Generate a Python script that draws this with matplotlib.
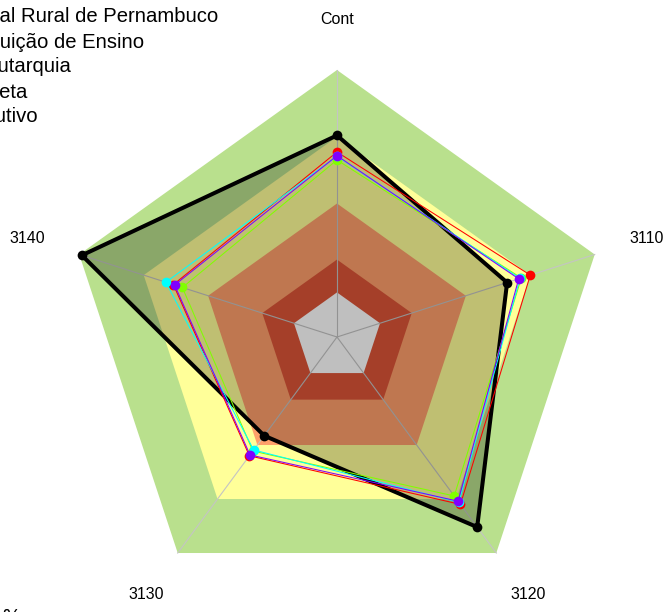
import matplotlib.pyplot as plt
import numpy as np

plt.rcParams['font.family'] = ['Liberation Sans', 'DejaVu Sans']

# dados do radar
categorias = ["Cont", "3110", "3120", "3130", "3140"]
nomes = [
    "Universidade Federal Rural de Pernambuco",
    "Instituição de Ensino",
    "Autarquia",
    "Administração Direta",
    "Poder Executivo",
]
ufrpe = [0.755, 0.66, 0.88, 0.457, 0.99]
inst_ensino = [0.693, 0.75, 0.775, 0.55, 0.635]
autarquia = [0.663, 0.715, 0.736, 0.528, 0.60]
adm_direta = [0.677, 0.71, 0.765, 0.523, 0.664]
poder_exec = [0.679, 0.705, 0.76, 0.546, 0.63]
series = [ufrpe, inst_ensino, autarquia, adm_direta, poder_exec]
cores = ["black", "#FF0000", "#80FF00", "#00FFFF", "#8000FF"]

# faixas de fundo
faixas = [1.0, 0.75, 0.5, 0.29, 0.167]
cores_faixas = ["#b9e08d", "#ffff99", "#ffa06b", "#dd5538", "#ffffff"]

W, H = 664, 612
cx, cy = 337, 337      # centro em pixels
rx, ry = 271, 267      # raio em pixels

fig = plt.figure(figsize=(W / 100, H / 100), dpi=100)
ax = fig.add_axes([0, 0, 1, 1])
ax.set_xlim(-cx / rx, (W - cx) / rx)
ax.set_ylim(-(H - cy) / ry, cy / ry)
ax.axis("off")

ang = np.deg2rad(90 - 72 * np.arange(len(categorias)))
ux, uy = np.cos(ang), np.sin(ang)


def fechar(v):
    v = np.asarray(v, dtype=float)
    return np.append(v, v[0])


# faixas
for r, c in zip(faixas, cores_faixas):
    ax.fill(fechar(r * ux), fechar(r * uy), color=c, lw=0, zorder=1)

# eixos radiais
for x, y in zip(ux, uy):
    ax.plot([0, x], [0, y], color="#c4c4c4", lw=0.8, zorder=2)

# séries
for i, (vals, cor) in enumerate(zip(series, cores)):
    v = np.asarray(vals)
    px, py = v * ux, v * uy
    if i == 0:
        ax.fill(fechar(px), fechar(py), color="black", alpha=0.25, lw=0, zorder=3)
        ax.plot(fechar(px), fechar(py), color=cor, lw=2.9, zorder=4)
    else:
        ax.plot(fechar(px), fechar(py), color=cor, lw=0.75, zorder=4 + i)
    ax.plot(px, py, "o", color=cor, ms=7, mec="none", zorder=4 + i)

# rótulos dos eixos
for nome, x, y in zip(categorias, ux, uy):
    ax.text(1.2 * x, 1.19 * y, nome, ha="center", va="center", fontsize=11.5)

# legenda (cortada na borda esquerda)
fim_x = [218, 144, 72, 27, 38]
base_y = [22.5, 47.5, 72.5, 97.5, 122.5]
for nome, x, y in zip(nomes, fim_x, base_y):
    fig.text(x / W, 1 - y / H, nome, ha="right", va="baseline", fontsize=14.6)

fig.text(2 / W, 1 - 608 / H, "%", ha="left", va="top", fontsize=14.6)

fig.savefig("out.png", dpi=100)
